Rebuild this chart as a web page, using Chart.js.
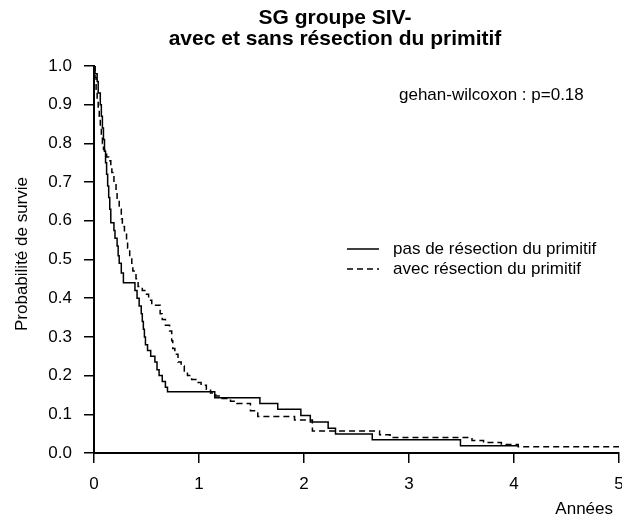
<!DOCTYPE html>
<html>
<head>
<meta charset="utf-8">
<script src="https://cdn.jsdelivr.net/npm/chart.js@4/dist/chart.umd.min.js"></script>
<style>
  html, body { margin: 0; padding: 0; background: #fff; }
  #wrap { width: 622px; height: 519px; }
</style>
</head>
<body>
<div id="wrap"><canvas id="c" width="622" height="519"></canvas></div>
<script>
// Titles and annotation
const titleLines = ['SG groupe SIV-', 'avec et sans résection du primitif'];
const testNote = 'gehan-wilcoxon : p=0.18';
const xTitle = 'Années';
const yTitle = 'Probabilité de survie';

// Axis ticks
const xTicks = [0, 1, 2, 3, 4, 5];
const yTicks = [0.0, 0.1, 0.2, 0.3, 0.4, 0.5, 0.6, 0.7, 0.8, 0.9, 1.0];

// Series names
const seriesNames = ['pas de résection du primitif', 'avec résection du primitif'];

// Kaplan-Meier steps: time (years) and survival after each event
const timeSans = [0, 0.01, 0.03, 0.04, 0.06, 0.07, 0.08, 0.09, 0.10, 0.11, 0.12, 0.13, 0.14, 0.15, 0.16,
  0.19, 0.20, 0.22, 0.23, 0.24, 0.26, 0.28, 0.39, 0.41, 0.43, 0.45, 0.46, 0.47, 0.48, 0.49, 0.51,
  0.54, 0.58, 0.60, 0.62, 0.65, 0.68, 0.70, 1.15, 1.58, 1.75, 1.97, 2.06, 2.23, 2.30, 2.65, 3.49, 4.04];
const survSans = [1.0, 0.98, 0.96, 0.93, 0.90, 0.87, 0.84, 0.81, 0.78, 0.75, 0.72, 0.69, 0.66, 0.63, 0.595,
  0.575, 0.555, 0.535, 0.51, 0.49, 0.465, 0.44, 0.42, 0.40, 0.38, 0.36, 0.34, 0.32, 0.30, 0.28, 0.265,
  0.25, 0.235, 0.215, 0.20, 0.185, 0.17, 0.158, 0.143, 0.128, 0.113, 0.097, 0.080, 0.064, 0.049, 0.034, 0.019, 0.019];

const timeAvec = [0, 0.01, 0.02, 0.03, 0.04, 0.05, 0.06, 0.07, 0.08, 0.09, 0.10, 0.12, 0.14, 0.16, 0.17,
  0.19, 0.21, 0.22, 0.24, 0.26, 0.27, 0.29, 0.31, 0.32, 0.34, 0.36, 0.37, 0.40, 0.42, 0.46, 0.50,
  0.52, 0.55, 0.63, 0.65, 0.68, 0.72, 0.74, 0.75, 0.77, 0.80, 0.83, 0.86, 0.89, 0.93, 0.97, 1.02,
  1.07, 1.11, 1.16, 1.22, 1.30, 1.36, 1.49, 1.56, 1.91, 2.08, 2.72, 2.82, 3.60, 3.71, 3.88, 4.04, 5.0];
const survAvec = [1.0, 0.97, 0.94, 0.91, 0.89, 0.87, 0.84, 0.82, 0.80, 0.785, 0.775, 0.765, 0.755, 0.74, 0.725,
  0.70, 0.675, 0.655, 0.63, 0.605, 0.585, 0.57, 0.55, 0.53, 0.505, 0.49, 0.47, 0.45, 0.43, 0.42, 0.41,
  0.395, 0.382, 0.36, 0.345, 0.33, 0.315, 0.29, 0.27, 0.255, 0.235, 0.225, 0.212, 0.20, 0.19, 0.182, 0.175,
  0.165, 0.155, 0.147, 0.141, 0.134, 0.128, 0.109, 0.094, 0.085, 0.057, 0.047, 0.040, 0.032, 0.027, 0.022, 0.016, 0.016];

const FONT = '"Liberation Sans", Arial, Helvetica, sans-serif';
const toPoints = (ts, ss) => ts.map((t, i) => ({ x: t, y: ss[i] }));

// Title, test note, axis titles and legend drawn on top of the plot
const decorations = {
  id: 'decorations',
  afterDraw(chart) {
    const { ctx } = chart;
    ctx.save();
    ctx.fillStyle = '#000';
    ctx.textBaseline = 'middle';

    ctx.font = 'bold 21px ' + FONT;
    ctx.textAlign = 'center';
    titleLines.forEach((t, i) => ctx.fillText(t, 335, 18 + i * 21));

    ctx.font = '17px ' + FONT;
    ctx.textAlign = 'left';
    ctx.fillText(testNote, 399, 95);

    ctx.textAlign = 'right';
    ctx.fillText(xTitle, 613, 509);

    ctx.save();
    ctx.translate(22, 254);
    ctx.rotate(-Math.PI / 2);
    ctx.textAlign = 'center';
    ctx.fillText(yTitle, 0, 0);
    ctx.restore();

    // legend
    chart.data.datasets.forEach((ds, i) => {
      const y = 249 + i * 20;
      ctx.save();
      ctx.strokeStyle = ds.borderColor;
      ctx.lineWidth = ds.borderWidth;
      ctx.setLineDash(ds.borderDash || []);
      ctx.beginPath();
      ctx.moveTo(347, y);
      ctx.lineTo(379, y);
      ctx.stroke();
      ctx.restore();
      ctx.textAlign = 'left';
      ctx.fillText(ds.label, 393, y);
    });
    ctx.restore();
  }
};

new Chart(document.getElementById('c'), {
  type: 'line',
  data: {
    datasets: [
      {
        label: seriesNames[0],
        data: toPoints(timeSans, survSans),
        borderColor: '#000',
        borderWidth: 1.5,
        stepped: true,
        pointRadius: 0,
        fill: false
      },
      {
        label: seriesNames[1],
        data: toPoints(timeAvec, survAvec),
        borderColor: '#000',
        borderWidth: 1.5,
        borderDash: [6, 4],
        stepped: true,
        pointRadius: 0,
        fill: false
      }
    ]
  },
  options: {
    responsive: false,
    animation: false,
    devicePixelRatio: 1,
    layout: { padding: { top: 66, right: 3, bottom: 0, left: 0 } },
    plugins: { legend: { display: false }, title: { display: false }, tooltip: { enabled: false } },
    scales: {
      x: {
        type: 'linear',
        min: 0, max: 5,
        afterBuildTicks: s => { s.ticks = xTicks.map(v => ({ value: v })); },
        afterFit: s => { s.height = 66; s.paddingLeft = 0; s.paddingRight = 0; },
        ticks: { color: '#000', font: { family: FONT, size: 17 }, padding: 11, maxRotation: 0, autoSkip: false },
        grid: { drawOnChartArea: false, drawTicks: true, tickLength: 10, color: '#000', lineWidth: 1.5 },
        border: { display: true, color: '#000', width: 2 }
      },
      y: {
        type: 'linear',
        min: 0, max: 1,
        afterBuildTicks: s => { s.ticks = yTicks.map(v => ({ value: v })); },
        afterFit: s => { s.width = 94; s.paddingTop = 0; s.paddingBottom = 0; },
        ticks: { color: '#000', font: { family: FONT, size: 17 }, padding: 12, autoSkip: false,
                 callback: v => v.toFixed(1) },
        grid: { drawOnChartArea: false, drawTicks: true, tickLength: 10, color: '#000', lineWidth: 1.5 },
        border: { display: true, color: '#000', width: 2 }
      }
    }
  },
  plugins: [decorations]
});
</script>
</body>
</html>
